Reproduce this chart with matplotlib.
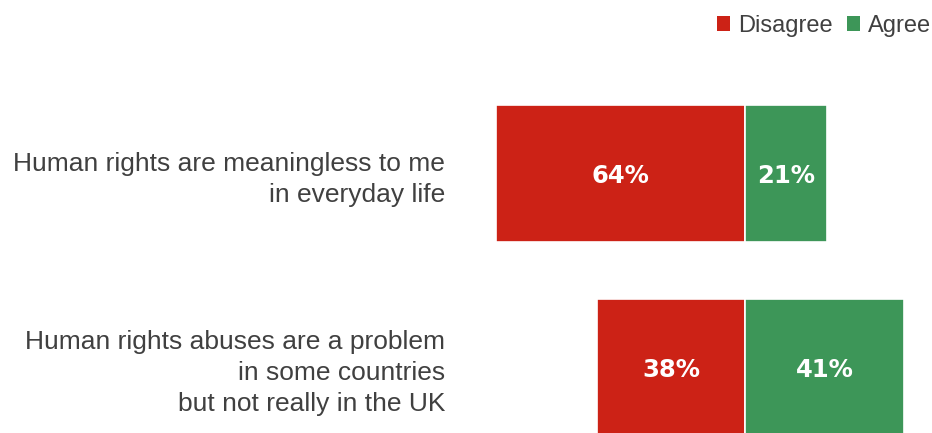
import matplotlib.pyplot as plt
from matplotlib.patches import Patch

plt.rcParams['font.family'] = ['Liberation Sans', 'DejaVu Sans']

# data
statements = ['Human rights are meaningless to me\nin everyday life',
              'Human rights abuses are a problem\nin some countries\nbut not really in the UK']
disagree = [64, 38]
agree = [21, 41]

red = '#CC2216'
green = '#3D9658'
textGrey = '#404040'

fig = plt.figure(figsize=(9.32, 4.33), dpi=100)
ax = fig.add_axes([480 / 932, 0.0, 440 / 932, 0.8614])

ypos = list(range(len(statements)))
barH = 0.706

ax.barh(ypos, [-d for d in disagree], height=barH, color=red,
        edgecolor='white', linewidth=1.2)
ax.barh(ypos, agree, height=barH, color=green,
        edgecolor='white', linewidth=1.2)

# value labels, nudged a touch below bar centre
for y, d, a in zip(ypos, disagree, agree):
    ax.text(-d / 2, y + 0.015, '%d%%' % d, ha='center', va='center',
            color='white', fontsize=17.5, fontweight='bold',
            family='DejaVu Sans')
    ax.text(a / 2, y + 0.015, '%d%%' % a, ha='center', va='center',
            color='white', fontsize=17.5, fontweight='bold',
            family='DejaVu Sans')

# formatting
ax.set_xlim(-68.1, 45.0)
ax.set_ylim(1.338, -0.585)
ax.set_yticks(ypos)
ax.set_yticklabels(statements, fontsize=19, color=textGrey, ha='right',
                   multialignment='right', linespacing=1.37)
ax.tick_params(axis='y', length=0, pad=25)
ax.set_xticks([])
for s in ax.spines.values():
    s.set_visible(False)

handles = [Patch(facecolor=red, label='Disagree'),
           Patch(facecolor=green, label='Agree')]
fig.legend(handles=handles, loc='upper right', bbox_to_anchor=(1.022, 1.015),
           ncol=2, frameon=False, fontsize=17, handlelength=0.55,
           handleheight=0.55, handletextpad=0.35, columnspacing=0.6,
           labelcolor=textGrey)

plt.savefig('out.png', dpi=100)
